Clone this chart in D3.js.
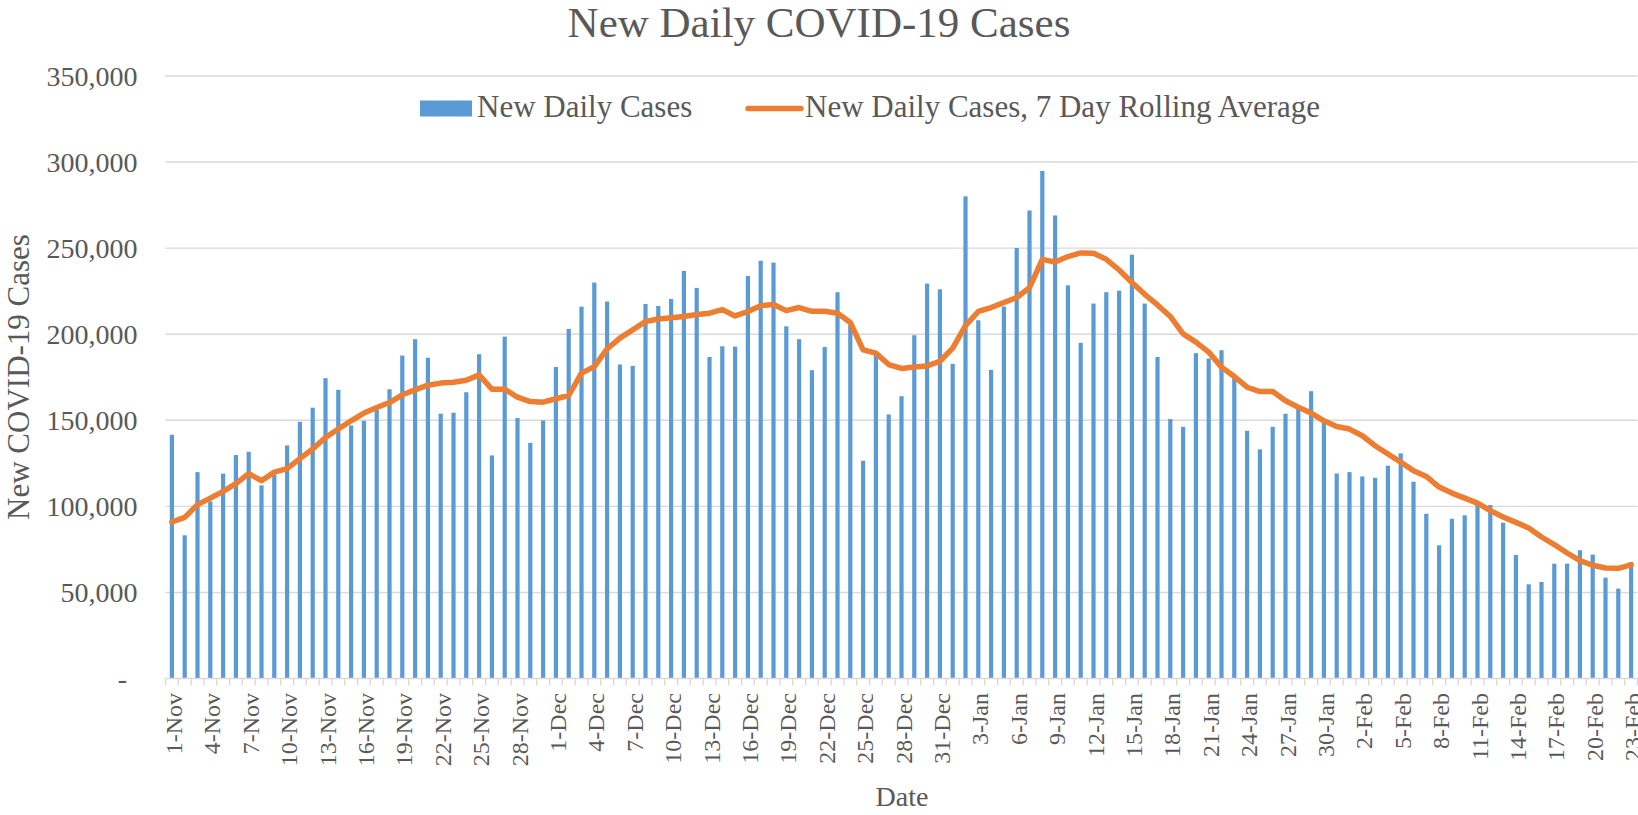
<!DOCTYPE html>
<html>
<head>
<meta charset="utf-8">
<script src="https://cdn.jsdelivr.net/npm/d3@7"></script>
<style>
  html, body { margin: 0; padding: 0; background: #fff; }
  svg { display: block; font-family: "Liberation Serif", "DejaVu Serif", serif; }
</style>
</head>
<body>
<svg id="chart" width="1638" height="815"></svg>
<script>
// Daily new cases, 1-Nov to 23-Feb (thousands)
const dailyCases = [
    141.6, 83.2, 119.9, 102.9, 119.0, 129.8, 131.7, 112.2, 118.4, 135.4,
    149.1, 157.3, 174.5, 167.7, 147.0, 149.7, 156.0, 168.0, 187.6, 197.1,
    186.3, 153.8, 154.4, 166.3, 188.4, 129.6, 198.6, 151.3, 136.9, 149.9,
    181.0, 203.1, 216.0, 230.0, 219.0, 182.4, 181.6, 217.6, 216.4, 220.5,
    236.8, 226.9, 186.8, 193.0, 192.8, 233.8, 242.7, 241.6, 204.6, 197.1,
    179.1, 192.6, 224.4, 205.4, 126.5, 190.1, 153.4, 164.0, 199.4, 229.4,
    226.1, 182.8, 280.1, 208.1, 179.3, 216.1, 250.1, 271.9, 294.8, 269.0,
    228.4, 195.0, 217.8, 224.4, 225.3, 246.2, 217.8, 186.8, 150.7, 146.2,
    189.0, 185.9, 190.7, 174.5, 143.9, 133.1, 146.2, 153.8, 157.1, 166.9,
    148.4, 119.1, 119.9, 117.4, 116.6, 123.6, 130.8, 114.3, 95.7, 77.4,
    92.8, 94.8, 101.0, 100.8, 90.5, 71.8, 54.7, 56.1, 66.7, 66.7,
    74.5, 72.0, 58.6, 52.2, 67.7
];
// 7 day rolling average (thousands)
const rollingAvg = [
    90.9, 93.6, 101.0, 104.8, 108.7, 113.2, 119.0, 114.9, 119.9, 121.9,
    127.7, 133.3, 140.0, 144.9, 149.7, 154.2, 157.4, 160.3, 164.8, 167.7,
    170.4, 171.6, 172.1, 173.3, 176.4, 168.1, 168.1, 163.4, 160.9, 160.5,
    162.5, 164.4, 177.4, 181.2, 191.5, 197.7, 202.5, 207.4, 208.8, 209.5,
    210.3, 211.4, 212.2, 214.3, 210.6, 213.2, 216.6, 217.2, 213.7, 215.5,
    213.3, 213.3, 212.2, 206.8, 190.9, 189.0, 182.4, 180.1, 180.9, 181.6,
    184.3, 191.9, 205.0, 213.2, 215.5, 218.4, 221.3, 227.1, 243.5, 241.9,
    245.1, 247.2, 247.0, 243.5, 237.3, 230.0, 223.2, 217.0, 210.3, 200.2,
    195.4, 189.6, 180.9, 175.4, 169.2, 166.7, 166.7, 161.3, 157.6, 154.2,
    149.7, 146.4, 144.9, 141.0, 135.2, 130.4, 125.7, 120.7, 117.4, 111.2,
    107.7, 104.8, 101.9, 97.5, 93.8, 90.7, 87.4, 82.2, 77.8, 72.9,
    68.5, 65.8, 64.2, 64.0, 66.0
];
const yTicks = [0, 50000, 100000, 150000, 200000, 250000, 300000, 350000];
const FIRST_DAY = new Date(2020, 10, 1);
const LAST_DAY = new Date(2021, 1, 23);

(function () {
    const svg = d3.select("#chart");
    const TEXT = "#595959", GRID = "#D9D9D9";
    const BAR = "#5B9BD5", LINE = "#ED7D31";

    const days = d3.timeDay.range(FIRST_DAY, d3.timeDay.offset(LAST_DAY, 1));
    const fmt = d3.timeFormat("%-d-%b");
    const labels = days.map(fmt);

    const data = labels.map((lab, i) => ({
        lab: lab, cases: dailyCases[i] * 1000, avg: rollingAvg[i] * 1000
    }));

    const x = d3.scaleBand()
        .domain(labels)
        .range([165.5, 1637.5])
        .paddingInner(0.67)
        .paddingOuter(0.335);
    const y = d3.scaleLinear().domain([0, 350000]).range([678.5, 76]);

    // gridlines
    svg.append("g").selectAll("line")
        .data(yTicks.filter(d => d > 0))
        .join("line")
        .attr("x1", 165.5).attr("x2", 1637.5)
        .attr("y1", d => y(d)).attr("y2", d => y(d))
        .attr("stroke", GRID).attr("stroke-width", 1.4);

    // y tick labels
    svg.append("g").selectAll("text")
        .data(yTicks)
        .join("text")
        .attr("x", d => d === 0 ? 127 : 137.5)
        .attr("y", d => y(d))
        .attr("dy", "0.35em")
        .attr("text-anchor", "end")
        .attr("font-size", "28px")
        .attr("fill", TEXT)
        .text(d => d === 0 ? "-" : d3.format(",")(d));

    // bars
    svg.append("g").selectAll("rect")
        .data(data)
        .join("rect")
        .attr("x", d => x(d.lab))
        .attr("width", x.bandwidth())
        .attr("y", d => y(d.cases))
        .attr("height", d => y(0) - y(d.cases))
        .attr("fill", BAR);

    // x axis line + ticks at category boundaries
    const step = x.step();
    const bounds = d3.range(labels.length + 1).map(i => 165.5 + i * step);
    svg.append("line")
        .attr("x1", 165.5).attr("x2", 1637.5)
        .attr("y1", y(0)).attr("y2", y(0))
        .attr("stroke", GRID).attr("stroke-width", 1.6);
    svg.append("g").selectAll("line")
        .data(bounds)
        .join("line")
        .attr("x1", d => d).attr("x2", d => d)
        .attr("y1", y(0)).attr("y2", y(0) + 7)
        .attr("stroke", GRID).attr("stroke-width", 1.4);

    // x labels, every 3rd day
    svg.append("g").selectAll("text")
        .data(labels.filter((d, i) => i % 3 === 0))
        .join("text")
        .attr("transform", d => `translate(${x(d) + x.bandwidth() / 2}, 693) rotate(-90)`)
        .attr("dy", 10)
        .attr("text-anchor", "end")
        .attr("font-size", "24px")
        .attr("fill", TEXT)
        .text(d => d);

    // rolling average line
    const line = d3.line()
        .x(d => x(d.lab) + x.bandwidth() / 2)
        .y(d => y(d.avg));
    svg.append("path")
        .datum(data)
        .attr("d", line)
        .attr("fill", "none")
        .attr("stroke", LINE)
        .attr("stroke-width", 5.5)
        .attr("stroke-linejoin", "round")
        .attr("stroke-linecap", "round");

    // title and axis titles
    svg.append("text")
        .attr("x", 819).attr("y", 37)
        .attr("text-anchor", "middle")
        .attr("font-size", "43px")
        .attr("fill", TEXT)
        .text("New Daily COVID-19 Cases");

    svg.append("text")
        .attr("x", 902).attr("y", 806)
        .attr("text-anchor", "middle")
        .attr("font-size", "28px")
        .attr("fill", TEXT)
        .text("Date");

    svg.append("text")
        .attr("transform", "translate(29, 377) rotate(-90)")
        .attr("text-anchor", "middle")
        .attr("font-size", "31px")
        .attr("fill", TEXT)
        .text("New COVID-19 Cases");

    // legend
    const legend = svg.append("g");
    legend.append("rect")
        .attr("x", 420).attr("y", 100.5)
        .attr("width", 52).attr("height", 16)
        .attr("fill", BAR);
    legend.append("text")
        .attr("x", 477).attr("y", 117)
        .attr("font-size", "31px")
        .attr("fill", TEXT)
        .text("New Daily Cases");
    legend.append("line")
        .attr("x1", 748).attr("x2", 801)
        .attr("y1", 108.5).attr("y2", 108.5)
        .attr("stroke", LINE).attr("stroke-width", 5.5)
        .attr("stroke-linecap", "round");
    legend.append("text")
        .attr("x", 805).attr("y", 117)
        .attr("font-size", "31px")
        .attr("fill", TEXT)
        .text("New Daily Cases, 7 Day Rolling Average");
})();
</script>
</body>
</html>
